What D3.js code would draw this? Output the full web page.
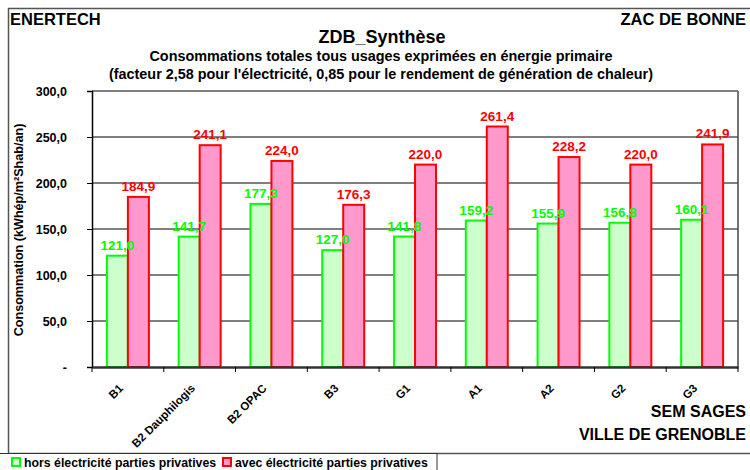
<!DOCTYPE html>
<html lang="fr">
  <head>
    <meta charset="UTF-8" />
    <title>ZDB_Synthèse</title>
    <script src="https://d3js.org/d3.v7.min.js"></script>
    <style>
      body {
        margin: 0;
        background: #fff;
      }
      text {
        font-family: "Liberation Sans", Arial, sans-serif;
        font-weight: bold;
      }
    </style>
  </head>
  <body>
    <svg id="chart" width="750" height="470"></svg>

    <script>
      // Data
      var categories = ["B1", "B2 Dauphilogis", "B2 OPAC", "B3", "G1", "A1", "A2", "G2", "G3"];
      var horsElec = [121.0, 141.7, 177.3, 127.0, 141.8, 159.2, 155.9, 156.8, 160.1];
      var avecElec = [184.9, 241.1, 224.0, 176.3, 220.0, 261.4, 228.2, 220.0, 241.9];
      var seriesNames = ["hors électricité parties privatives", "avec électricité parties privatives"];
      var yTicks = [0, 50, 100, 150, 200, 250, 300];

      var strokes = ["#00ff00", "#ff0000"];
      var fills = ["#ccffcc", "#ff99cc"];

      var svg = d3.select("#chart"),
        margin = { top: 91, right: 12, bottom: 103, left: 92 },
        width = +svg.attr("width") - margin.left - margin.right,
        height = +svg.attr("height") - margin.top - margin.bottom,
        g = svg.append("g").attr("transform", "translate(" + margin.left + "," + margin.top + ")");

      var fmt = function (v) {
        return v.toFixed(1).replace(".", ",");
      };

      // outer frame
      svg.append("rect")
        .attr("x", 8.5).attr("y", 8.5)
        .attr("width", 800).attr("height", 445)
        .attr("fill", "none").attr("stroke", "#555").attr("stroke-width", 1.5);

      // corner texts
      svg.append("text").attr("x", 10).attr("y", 25).style("font-size", "16.5px").text("ENERTECH");
      svg.append("text").attr("x", 746).attr("y", 25).attr("text-anchor", "end").style("font-size", "16.5px").text("ZAC DE BONNE");

      // titles
      svg.append("text").attr("x", 382).attr("y", 43).attr("text-anchor", "middle")
        .style("font-size", "18px").text("ZDB_Synthèse");
      svg.append("text").attr("x", 381).attr("y", 61).attr("text-anchor", "middle")
        .style("font-size", "14.4px").text("Consommations totales tous usages exprimées en énergie primaire");
      svg.append("text").attr("x", 381).attr("y", 79).attr("text-anchor", "middle")
        .style("font-size", "14.4px").text("(facteur 2,58 pour l'électricité, 0,85 pour le rendement de génération de chaleur)");

      // scales
      var x0 = d3.scaleBand().domain(categories).range([0, width]).padding(0);
      var x1 = d3.scaleBand().domain([0, 1]).range([0, x0.bandwidth()]).paddingInner(0).paddingOuter(0.71);
      var y = d3.scaleLinear().domain([0, 300]).range([height, 0]);

      // gridlines
      g.append("g")
        .selectAll("line")
        .data(yTicks.slice(1))
        .enter()
        .append("line")
        .attr("x1", 0).attr("x2", width)
        .attr("y1", function (d) { return y(d); })
        .attr("y2", function (d) { return y(d); })
        .attr("stroke", "#000").attr("stroke-width", 1);

      // plot border (right)
      g.append("line").attr("x1", width).attr("x2", width).attr("y1", 0).attr("y2", height)
        .attr("stroke", "#444").attr("stroke-width", 1.5);

      // bars
      var data = categories.map(function (c, i) {
        return { cat: c, values: [horsElec[i], avecElec[i]] };
      });

      var groups = g.selectAll(".grp")
        .data(data)
        .enter()
        .append("g")
        .attr("class", "grp")
        .attr("transform", function (d) { return "translate(" + x0(d.cat) + ",0)"; });

      groups.selectAll("rect")
        .data(function (d) { return d.values.map(function (v, k) { return { k: k, v: v }; }); })
        .enter()
        .append("rect")
        .attr("x", function (d) { return x1(d.k); })
        .attr("y", function (d) { return y(d.v); })
        .attr("width", x1.bandwidth())
        .attr("height", function (d) { return height - y(d.v); })
        .attr("fill", function (d) { return fills[d.k]; })
        .attr("stroke", function (d) { return strokes[d.k]; })
        .attr("stroke-width", 2);

      groups.selectAll(".lbl")
        .data(function (d) { return d.values.map(function (v, k) { return { k: k, v: v }; }); })
        .enter()
        .append("text")
        .attr("class", "lbl")
        .attr("x", function (d) { return x1(d.k) + x1.bandwidth() / 2; })
        .attr("y", function (d) { return y(d.v) - 6; })
        .attr("text-anchor", "middle")
        .attr("fill", function (d) { return strokes[d.k]; })
        .style("font-size", "13.5px")
        .text(function (d) { return fmt(d.v); });

      // y axis
      var yAxis = g.append("g")
        .call(d3.axisLeft(y).tickValues(yTicks).tickSize(5).tickFormat(function (d) { return d === 0 ? "-" : fmt(d); }));
      yAxis.select(".domain").attr("stroke", "#000").attr("stroke-width", 1.5);
      yAxis.selectAll("text").style("font-size", "12.5px").attr("x", -25).attr("fill", "#000");

      // x axis
      var xAxis = g.append("g")
        .attr("transform", "translate(0," + height + ")")
        .call(d3.axisBottom(x0).tickSize(0).tickFormat(""));
      xAxis.select(".domain").attr("stroke", "#333").attr("stroke-width", 2.5);

      // tick marks at category boundaries
      g.append("g")
        .selectAll("line")
        .data(categories.concat(["end"]))
        .enter()
        .append("line")
        .attr("x1", function (d, i) { return i * x0.step(); })
        .attr("x2", function (d, i) { return i * x0.step(); })
        .attr("y1", height).attr("y2", height + 5)
        .attr("stroke", "#000");

      // rotated category labels
      g.append("g")
        .selectAll("text")
        .data(categories)
        .enter()
        .append("text")
        .attr("text-anchor", "end")
        .style("font-size", "11.5px")
        .attr("transform", function (d) {
          return "translate(" + (x0(d) + x0.bandwidth() / 2 - 4) + "," + (height + 22) + ") rotate(-45)";
        })
        .text(function (d) { return d; });

      // y axis title
      svg.append("text")
        .attr("text-anchor", "middle")
        .attr("transform", "translate(23," + (margin.top + height / 2 + 1) + ") rotate(-90)")
        .style("font-size", "12.6px")
        .text("Consommation (kWhép/m²Shab/an)");

      // bottom right texts
      svg.append("text").attr("x", 746).attr("y", 417).attr("text-anchor", "end").style("font-size", "16px").text("SEM SAGES");
      svg.append("text").attr("x", 746).attr("y", 440).attr("text-anchor", "end").style("font-size", "16px").text("VILLE DE GRENOBLE");

      // legend
      var legend = svg.append("g").attr("class", "legend");
      legend.append("rect")
        .attr("x", -5).attr("y", 453.5).attr("width", 442).attr("height", 30)
        .attr("fill", "#fff").attr("stroke", "#333").attr("stroke-width", 1);

      var legendX = [11, 222];
      var items = legend.selectAll(".legend-item")
        .data(seriesNames)
        .enter()
        .append("g")
        .attr("class", "legend-item")
        .attr("transform", function (d, i) { return "translate(" + legendX[i] + ",457)"; });

      items.append("rect")
        .attr("width", 8).attr("height", 8).attr("x", 1).attr("y", 1)
        .attr("fill", function (d, i) { return fills[i]; })
        .attr("stroke", function (d, i) { return strokes[i]; })
        .attr("stroke-width", 2);

      items.append("text")
        .attr("x", 13).attr("y", 10)
        .style("font-size", "12.3px")
        .text(function (d) { return d; });
    </script>
  </body>
</html>
